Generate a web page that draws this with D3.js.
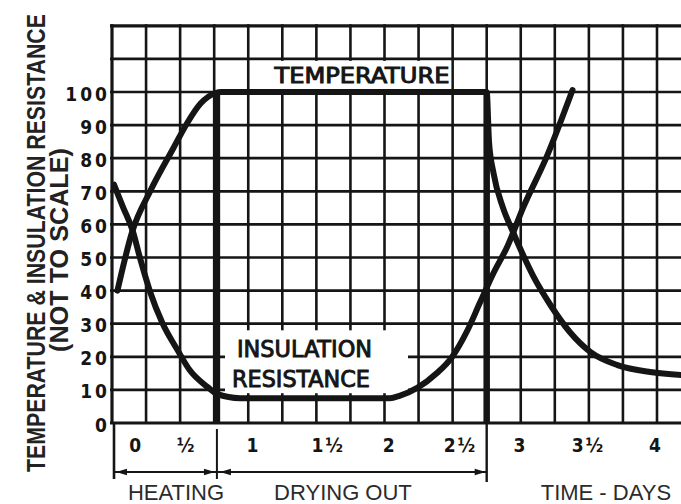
<!DOCTYPE html>
<html><head><meta charset="utf-8">
<script src="https://cdn.jsdelivr.net/npm/d3@7/dist/d3.min.js"></script>
<style>html,body{margin:0;padding:0;background:#fff;} svg{display:block;}</style>
</head><body>
<svg id="c" width="681" height="504"></svg>
<script>
// ---- data (time in days, value in arbitrary units 0-100) ----
const tempDays   = [0.04, 0.15, 0.28, 0.45, 0.55, 0.65, 0.76, 0.80, 2.75, 2.767, 2.80, 2.87, 2.94, 3.02, 3.09, 3.22, 3.36, 3.51, 3.71, 3.95, 4.18];
const tempValues = [40, 58, 70, 83, 90.5, 96.5, 99.7, 100, 100, 85, 75.5, 65, 58, 50.5, 44.5, 35.5, 27.5, 21.5, 17.5, 15.4, 14.5];
const irDays     = [0.015, 0.08, 0.15, 0.21, 0.28, 0.37, 0.48, 0.57, 0.70, 0.77, 0.94, 2.04, 2.11, 2.24, 2.385, 2.495, 2.61, 2.70, 2.80, 2.90, 3.02, 3.19, 3.38];
const irValues   = [72, 65.3, 58.3, 49.2, 39.6, 30.2, 22.1, 16.0, 10.9, 8.8, 7.5, 7.5, 8.2, 10.6, 15.1, 19.9, 28.1, 36.3, 45.3, 53.2, 65.3, 80.4, 100.6];
const yTickValues = [0, 10, 20, 30, 40, 50, 60, 70, 80, 90, 100];
const xTickLabels = ["0", "½", "1", "1½", "2", "2½", "3", "3½", "4"];
const xTickPos    = [0.17, 0.54, 1.03, 1.58, 2.03, 2.55, 2.99, 3.49, 3.985];
const phaseBounds = [0.77, 2.75];
const phaseLabels = ["HEATING", "DRYING OUT", "TIME - DAYS"];
const phaseLabelPos = [0.47, 1.695, 3.625];
const yTitle = ["TEMPERATURE & INSULATION RESISTANCE", "(NOT TO SCALE)"];

const svg = d3.select("#c");
const x = d3.scaleLinear().domain([0, 4]).range([112, 657]);
const y = d3.scaleLinear().domain([0, 100]).range([423, 92]);
const ink = "#151515";

svg.append("rect").attr("width", 681).attr("height", 504).attr("fill", "#fff");

// grid
const g = svg.append("g");
const hVals = d3.range(0, 121, 10);
g.selectAll("line.h").data(hVals).join("line")
  .attr("x1", x(0) - 2).attr("x2", 681)
  .attr("y1", d => y(d)).attr("y2", d => y(d))
  .attr("stroke", ink).attr("stroke-width", d => (d === 0 || d === 120) ? 3.2 : 2.7);
const vVals = d3.range(0, 4.3, 0.25);
g.selectAll("line.v").data(vVals).join("line")
  .attr("x1", d => x(d)).attr("x2", d => x(d))
  .attr("y1", y(120) - 1.5).attr("y2", y(0))
  .attr("stroke", ink).attr("stroke-width", d => d === 0 ? 3.2 : 2.6);

// white boxes behind curve labels
svg.append("rect").attr("x", x(1.0) + 2).attr("y", y(110) + 2)
  .attr("width", x(2.5) - x(1.0) - 3.5).attr("height", y(100) - y(110) - 4).attr("fill", "#fff");
svg.append("rect").attr("x", 225).attr("y", y(28)).attr("width", 183).attr("height", y(9) - y(28)).attr("fill", "#fff");

// lower bracket
const br = svg.append("g").attr("stroke", ink).attr("fill", "none");
br.append("line").attr("x1", x(0) + 2).attr("x2", x(0) + 2).attr("y1", y(0)).attr("y2", 479).attr("stroke-width", 2.6);
br.append("line").attr("x1", x(phaseBounds[0])).attr("x2", x(phaseBounds[0])).attr("y1", 429).attr("y2", 479).attr("stroke-width", 2);
br.append("line").attr("x1", x(phaseBounds[1])).attr("x2", x(phaseBounds[1])).attr("y1", y(0)).attr("y2", 482).attr("stroke-width", 2.4);
br.append("line").attr("x1", x(0) + 2).attr("x2", x(phaseBounds[1])).attr("y1", 472).attr("y2", 472).attr("stroke-width", 2);
function arrow(tip, dir) {
  const len = 11, hw = 3.2;
  svg.append("path")
    .attr("d", `M${tip},472 L${tip - dir * len},${472 - hw} L${tip - dir * len},${472 + hw} Z`)
    .attr("fill", ink);
}
arrow(x(0) + 4, -1);
arrow(x(phaseBounds[0]) - 2, 1);
arrow(x(phaseBounds[0]) + 3, -1);
arrow(x(phaseBounds[1]) - 1, 1);

// thick phase markers
svg.selectAll("line.pb").data(phaseBounds).join("line")
  .attr("x1", d => x(d)).attr("x2", d => x(d))
  .attr("y1", y(100)).attr("y2", y(0))
  .attr("stroke", ink).attr("stroke-width", 6.5);

// curves
const line = d3.line().x(d => x(d[0])).y(d => y(d[1])).curve(d3.curveMonotoneX);
svg.append("path").datum(tempDays.map((d, i) => [d, tempValues[i]]))
  .attr("d", line).attr("fill", "none").attr("stroke", ink)
  .attr("stroke-width", 6).attr("stroke-linejoin", "round").attr("stroke-linecap", "round");
svg.append("path").datum(irDays.map((d, i) => [d, irValues[i]]))
  .attr("d", line).attr("fill", "none").attr("stroke", ink)
  .attr("stroke-width", 6).attr("stroke-linejoin", "round").attr("stroke-linecap", "round");

// text fitted to a target length by a horizontal scale transform
function fitText(txt, cx, by, rot, size, len, font, weight, fill, strokeW) {
  const grp = svg.append("g");
  const t = grp.append("text").attr("x", 0).attr("y", 0).attr("text-anchor", "middle")
    .attr("font-family", font).attr("font-weight", weight).attr("font-size", size)
    .attr("fill", fill).text(txt);
  if (strokeW) t.attr("stroke", fill).attr("stroke-width", strokeW);
  const nat = t.node().getComputedTextLength();
  const sx = len / nat;
  grp.attr("transform", `translate(${cx},${by}) rotate(${rot}) scale(${sx},1)`);
}

// curve labels
const stencil = "'DejaVu Sans Condensed', 'DejaVu Sans', sans-serif";
fitText("TEMPERATURE", 362, 83, 0, 21, 175, stencil, "normal", ink, 0.9);
fitText("INSULATION", 304.5, 357, 0, 23, 135, stencil, "normal", ink, 0.9);
fitText("RESISTANCE", 301, 387, 0, 23, 138, stencil, "normal", ink, 0.9);

// y tick labels
svg.selectAll("text.yt").data(yTickValues).join("text")
  .attr("x", 107 + 3).attr("y", d => y(d) + 8.5).attr("text-anchor", "end")
  .attr("font-family", stencil).attr("font-weight", "bold").attr("font-size", 19)
  .attr("letter-spacing", 3).attr("fill", ink).text(d => d);

// x tick labels
svg.selectAll("text.xt").data(xTickLabels).join("text")
  .attr("x", (d, i) => x(xTickPos[i]) + 1).attr("y", 452).attr("text-anchor", "middle")
  .attr("font-family", stencil).attr("font-weight", "bold").attr("font-size", 19)
  .attr("letter-spacing", 2).attr("fill", ink).text(d => d);

// phase labels
svg.selectAll("text.ph").data(phaseLabels).join("text")
  .attr("x", (d, i) => x(phaseLabelPos[i])).attr("y", 500).attr("text-anchor", "middle")
  .attr("font-family", "'Liberation Sans', Arial, sans-serif").attr("font-size", 22)
  .attr("fill", "#2b2b2b").text(d => d);

// y title
const sans = "'Liberation Sans', Arial, sans-serif";
fitText(yTitle[0], 45, 243, -90, 25, 458, sans, "bold", "#222", 0);
fitText(yTitle[1], 68, 250, -90, 25, 204, sans, "bold", "#222", 0);
</script>
</body></html>
